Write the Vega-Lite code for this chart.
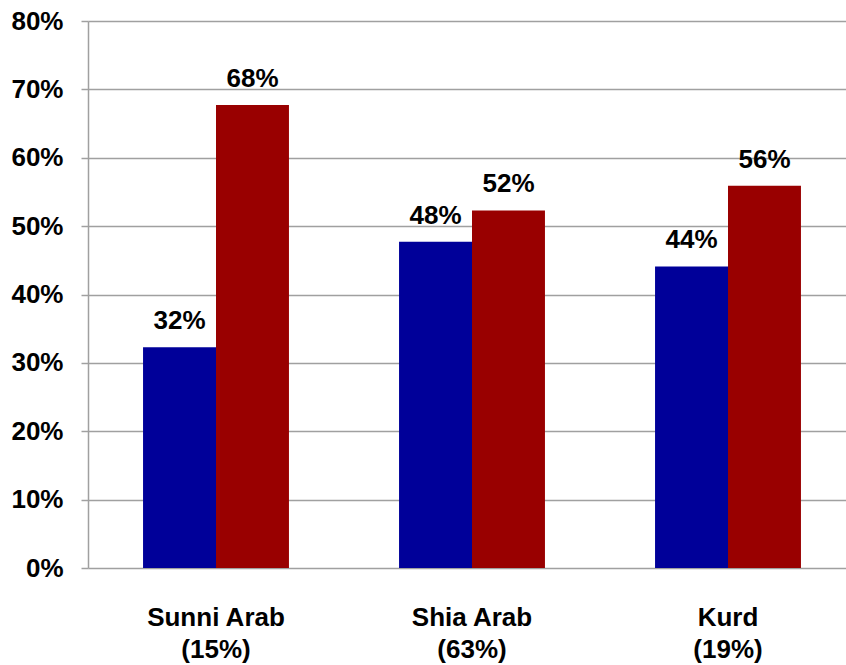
{
  "$schema": "https://vega.github.io/schema/vega-lite/v6.json",
  "autosize": {"type": "none"},
  "padding": {"left": 88, "top": 21, "right": 0, "bottom": 97},
  "width": 758,
  "height": 547,
  "config": {
    "font": "Liberation Sans",
    "view": {"stroke": null}
  },
  "data": {
    "values": [
      {"group": "Sunni Arab (15%)", "series": "Series 1", "share": 0.323},
      {"group": "Sunni Arab (15%)", "series": "Series 2", "share": 0.677},
      {"group": "Shia Arab (63%)", "series": "Series 1", "share": 0.477},
      {"group": "Shia Arab (63%)", "series": "Series 2", "share": 0.523},
      {"group": "Kurd (19%)", "series": "Series 1", "share": 0.441},
      {"group": "Kurd (19%)", "series": "Series 2", "share": 0.559}
    ]
  },
  "encoding": {
    "x": {
      "field": "group",
      "type": "nominal",
      "sort": null,
      "scale": {"range": [0, 768], "paddingInner": 0.43, "paddingOuter": 0.215},
      "axis": {
        "title": null,
        "domain": false,
        "ticks": false,
        "labelAngle": 0,
        "labelFontSize": 26,
        "labelFontWeight": "bold",
        "labelColor": "#000000",
        "labelBaseline": "alphabetic",
        "labelPadding": 57,
        "labelLineHeight": 32,
        "labelExpr": "[slice(datum.label, 0, indexof(datum.label, ' (')), slice(datum.label, indexof(datum.label, ' (') + 1)]"
      }
    },
    "xOffset": {"field": "series", "type": "nominal", "scale": {"paddingInner": 0, "paddingOuter": 0}},
    "y": {
      "field": "share",
      "type": "quantitative",
      "scale": {"domain": [0, 0.8], "nice": false},
      "axis": {
        "title": null,
        "format": ".0%",
        "values": [0, 0.1, 0.2, 0.3, 0.4, 0.5, 0.6, 0.7, 0.8],
        "grid": true,
        "gridColor": "#a0a0a0",
        "gridWidth": 1.5,
        "domain": true,
        "domainColor": "#a0a0a0",
        "domainWidth": 1.5,
        "tickColor": "#a0a0a0",
        "tickWidth": 1.5,
        "tickSize": 7,
        "labelFontSize": 26,
        "labelFontWeight": "bold",
        "labelColor": "#000000",
        "labelPadding": 18
      }
    }
  },
  "layer": [
    {
      "mark": {"type": "bar"},
      "encoding": {
        "color": {
          "field": "series",
          "type": "nominal",
          "scale": {"domain": ["Series 1", "Series 2"], "range": ["#000099", "#990000"]},
          "legend": null
        }
      }
    },
    {
      "mark": {"type": "text", "baseline": "alphabetic", "dy": -18, "fontSize": 26, "fontWeight": "bold", "color": "#000000"},
      "encoding": {
        "text": {"field": "share", "type": "quantitative", "format": ".0%"}
      }
    }
  ]
}
